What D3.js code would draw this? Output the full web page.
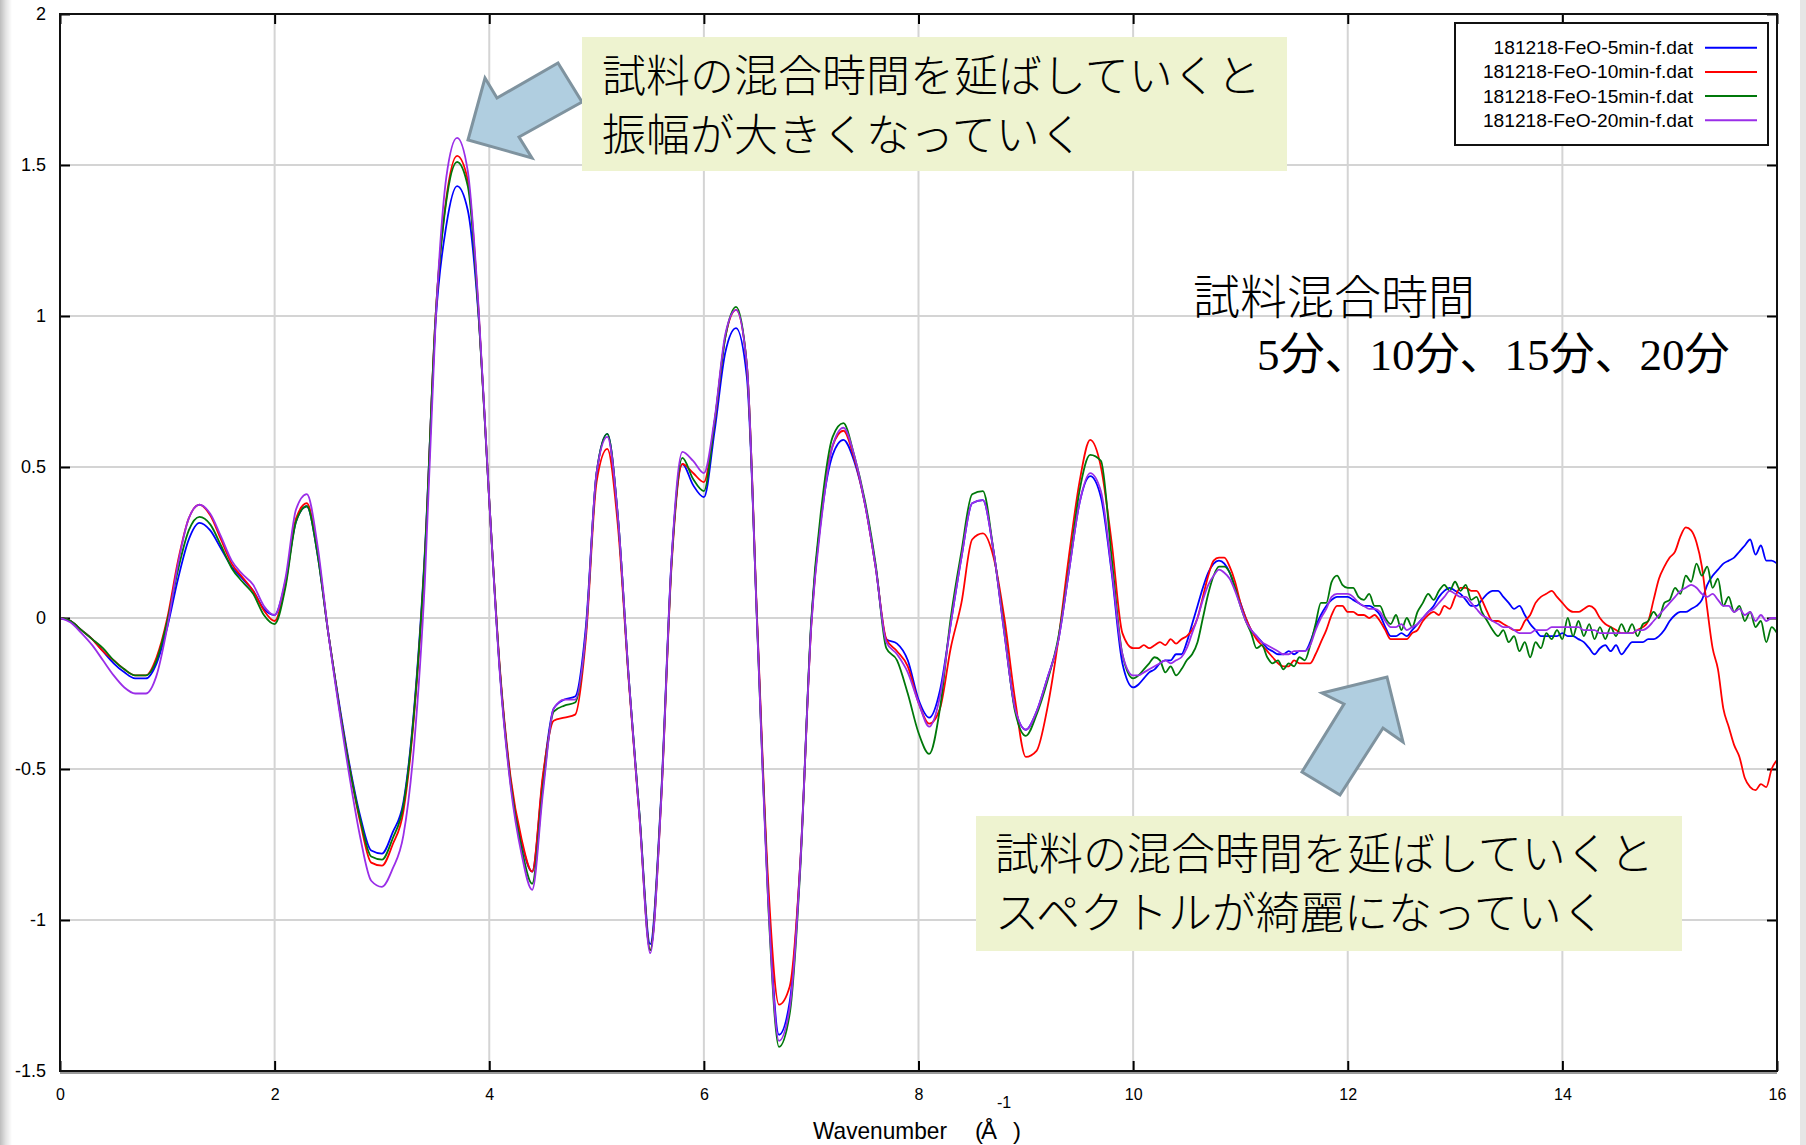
<!DOCTYPE html>
<html>
<head>
<meta charset="utf-8">
<script src="https://cdn.jsdelivr.net/npm/d3@7"></script>
<style>
html, body { margin: 0; padding: 0; background: #fff; }
svg { display: block; }
</style>
</head>
<body>
<svg id="chart" width="1806" height="1145"></svg>
<script>
// Wavenumber grid (Å^-1) shared by all four spectra
const wavenumber = [
  0,0.1,0.2,0.3,0.4,0.5,0.6,0.7,0.8,0.9,
  1,1.1,1.2,1.3,1.4,1.5,1.6,1.7,1.8,1.9,
  2,2.1,2.2,2.3,2.4,2.5,2.6,2.7,2.8,2.9,
  3,3.1,3.2,3.3,3.4,3.5,3.6,3.7,3.8,3.9,
  4,4.1,4.2,4.3,4.4,4.5,4.6,4.7,4.8,4.9,
  5,5.1,5.2,5.3,5.4,5.5,5.6,5.7,5.8,5.9,
  6,6.1,6.2,6.3,6.4,6.5,6.6,6.7,6.8,6.9,
  7,7.1,7.2,7.3,7.4,7.5,7.6,7.7,7.8,7.9,
  8,8.1,8.2,8.3,8.4,8.5,8.6,8.7,8.8,8.9,
  9,9.1,9.2,9.3,9.4,9.5,9.6,9.7,9.8,9.9,
  10,
  10.05,10.1,10.15,10.2,10.25,10.3,10.35,10.4,10.45,10.5,
  10.55,10.6,10.65,10.7,10.75,10.8,10.85,10.9,10.95,11,
  11.05,11.1,11.15,11.2,11.25,11.3,11.35,11.4,11.45,11.5,
  11.55,11.6,11.65,11.7,11.75,11.8,11.85,11.9,11.95,12,
  12.05,12.1,12.15,12.2,12.25,12.3,12.35,12.4,12.45,12.5,
  12.55,12.6,12.65,12.7,12.75,12.8,12.85,12.9,12.95,13,
  13.05,13.1,13.15,13.2,13.25,13.3,13.35,13.4,13.45,13.5,
  13.55,13.6,13.65,13.7,13.75,13.8,13.85,13.9,13.95,14,
  14.05,14.1,14.15,14.2,14.25,14.3,14.35,14.4,14.45,14.5,
  14.55,14.6,14.65,14.7,14.75,14.8,14.85,14.9,14.95,15,
  15.05,15.1,15.15,15.2,15.25,15.3,15.35,15.4,15.45,15.5,
  15.55,15.6,15.65,15.7,15.75,15.8,15.85,15.9,15.95,16
];

// 181218-FeO-5min-f.dat
const feo5min = [
  0,-0.01,-0.04,-0.07,-0.11,-0.15,-0.18,-0.20,-0.20,-0.15,
  -0.03,0.13,0.26,0.315,0.29,0.23,0.17,0.13,0.09,0.03,
  0.01,0.12,0.32,0.37,0.21,-0.05,-0.28,-0.49,-0.66,-0.77,
  -0.78,-0.71,-0.61,-0.30,0.22,0.98,1.30,1.43,1.35,1.00,
  0.39,-0.18,-0.54,-0.74,-0.84,-0.53,-0.30,-0.27,-0.26,-0.03,
  0.48,0.61,0.33,-0.20,-0.65,-1.08,-0.60,0.20,0.51,0.44,
  0.40,0.62,0.88,0.96,0.80,-0.05,-0.92,-1.38,-1.27,-0.80,
  -0.02,0.35,0.54,0.59,0.52,0.38,0.17,-0.07,-0.085,-0.14,
  -0.27,-0.33,-0.24,-0.02,0.20,0.38,0.39,0.22,-0.05,-0.30,
  -0.37,-0.31,-0.20,-0.08,0.15,0.38,0.47,0.40,0.15,-0.15,
  -0.23,
  -0.22,-0.20,-0.18,-0.17,-0.15,-0.14,-0.14,-0.12,-0.12,-0.08,
  -0.02,0.04,0.10,0.15,0.18,0.19,0.18,0.15,0.10,0.05,
  0.00,-0.04,-0.06,-0.08,-0.10,-0.11,-0.12,-0.12,-0.11,-0.12,
  -0.11,-0.11,-0.08,-0.03,0.01,0.04,0.06,0.07,0.07,0.07,
  0.06,0.05,0.04,0.04,0.03,0.01,-0.03,-0.06,-0.06,-0.05,
  -0.06,-0.04,-0.02,0.00,0.02,0.04,0.07,0.09,0.10,0.09,
  0.08,0.06,0.04,0.04,0.06,0.08,0.09,0.09,0.07,0.05,
  0.03,0.04,0.01,-0.02,-0.04,-0.06,-0.06,-0.06,-0.06,-0.05,
  -0.06,-0.06,-0.07,-0.08,-0.10,-0.12,-0.10,-0.09,-0.11,-0.09,
  -0.12,-0.10,-0.08,-0.08,-0.08,-0.07,-0.07,-0.06,-0.04,-0.01,
  0.01,0.02,0.02,0.03,0.04,0.06,0.11,0.14,0.16,0.18,
  0.19,0.20,0.22,0.24,0.26,0.21,0.24,0.19,0.19,0.18
];

// 181218-FeO-10min-f.dat
const feo10min = [
  0,-0.01,-0.04,-0.07,-0.11,-0.14,-0.17,-0.19,-0.19,-0.13,
  0.00,0.19,0.33,0.375,0.34,0.26,0.18,0.135,0.09,0.025,
  -0.01,0.11,0.33,0.38,0.22,-0.05,-0.29,-0.50,-0.68,-0.81,
  -0.82,-0.75,-0.64,-0.32,0.20,1.00,1.39,1.53,1.45,1.02,
  0.39,-0.17,-0.53,-0.73,-0.84,-0.52,-0.34,-0.33,-0.32,-0.07,
  0.45,0.56,0.30,-0.21,-0.66,-1.10,-0.62,0.18,0.51,0.48,
  0.45,0.65,0.93,1.02,0.84,-0.04,-0.88,-1.28,-1.22,-0.80,
  -0.03,0.36,0.57,0.62,0.53,0.38,0.17,-0.07,-0.11,-0.16,
  -0.28,-0.35,-0.30,-0.10,0.05,0.26,0.28,0.20,0.00,-0.27,
  -0.46,-0.44,-0.30,-0.08,0.20,0.45,0.59,0.50,0.25,-0.05,
  -0.10,
  -0.10,-0.09,-0.10,-0.09,-0.08,-0.09,-0.07,-0.085,-0.07,-0.06,
  -0.04,0.00,0.07,0.14,0.19,0.20,0.20,0.17,0.12,0.05,
  0.00,-0.04,-0.07,-0.09,-0.11,-0.13,-0.15,-0.16,-0.16,-0.14,
  -0.15,-0.15,-0.15,-0.12,-0.08,-0.04,0.01,0.04,0.04,0.02,
  0.02,0.01,0.01,0.00,0.01,-0.01,-0.04,-0.07,-0.07,-0.07,
  -0.07,-0.05,-0.04,-0.01,0.01,0.02,0.01,0.04,0.03,0.07,
  0.10,0.10,0.09,0.09,0.06,0.02,-0.01,-0.01,-0.02,-0.03,
  -0.04,-0.04,-0.01,0.01,0.05,0.07,0.08,0.09,0.07,0.05,
  0.03,0.02,0.02,0.03,0.04,0.03,0.00,-0.02,-0.03,-0.04,
  -0.05,-0.05,-0.05,-0.04,-0.03,-0.01,0.06,0.13,0.17,0.20,
  0.22,0.27,0.30,0.29,0.25,0.17,0.03,-0.10,-0.17,-0.30,
  -0.36,-0.42,-0.46,-0.53,-0.56,-0.57,-0.55,-0.56,-0.50,-0.47
];

// 181218-FeO-15min-f.dat
const feo15min = [
  0,-0.01,-0.04,-0.07,-0.10,-0.14,-0.17,-0.19,-0.19,-0.14,
  -0.01,0.16,0.29,0.335,0.31,0.24,0.165,0.12,0.08,0.01,
  -0.02,0.10,0.32,0.37,0.21,-0.05,-0.29,-0.50,-0.67,-0.79,
  -0.80,-0.73,-0.62,-0.31,0.21,1.00,1.38,1.51,1.43,1.01,
  0.39,-0.18,-0.55,-0.76,-0.88,-0.56,-0.31,-0.29,-0.28,-0.05,
  0.48,0.61,0.33,-0.20,-0.65,-1.10,-0.61,0.19,0.53,0.46,
  0.42,0.65,0.93,1.03,0.84,-0.06,-0.95,-1.42,-1.31,-0.82,
  -0.01,0.38,0.60,0.645,0.54,0.39,0.18,-0.10,-0.14,-0.25,
  -0.38,-0.45,-0.30,0.00,0.22,0.41,0.42,0.22,-0.04,-0.31,
  -0.39,-0.32,-0.21,-0.07,0.16,0.42,0.54,0.52,0.20,-0.12,
  -0.20,
  -0.19,-0.17,-0.15,-0.13,-0.14,-0.18,-0.16,-0.19,-0.17,-0.14,
  -0.12,-0.08,0.00,0.08,0.14,0.17,0.17,0.15,0.10,0.04,
  -0.01,-0.05,-0.10,-0.09,-0.13,-0.15,-0.14,-0.17,-0.15,-0.16,
  -0.13,-0.14,-0.09,-0.02,0.05,0.05,0.12,0.14,0.11,0.10,
  0.10,0.07,0.06,0.08,0.04,0.04,0.00,-0.02,0.01,-0.04,
  0.00,-0.03,0.02,0.05,0.08,0.06,0.09,0.11,0.09,0.12,
  0.09,0.11,0.06,0.07,0.02,-0.01,-0.04,-0.06,-0.04,-0.08,
  -0.06,-0.11,-0.08,-0.13,-0.08,-0.10,-0.05,-0.07,-0.04,-0.07,
  0.00,-0.06,-0.01,-0.06,-0.02,-0.07,-0.03,-0.07,-0.03,-0.06,
  -0.02,-0.05,-0.02,-0.06,-0.02,-0.01,0.02,0.00,0.05,0.06,
  0.10,0.08,0.14,0.12,0.18,0.14,0.17,0.10,0.13,0.04,
  0.07,0.02,0.04,-0.01,0.02,-0.03,-0.01,-0.08,-0.03,-0.05
];

// 181218-FeO-20min-f.dat
const feo20min = [
  0,-0.015,-0.05,-0.09,-0.14,-0.19,-0.23,-0.25,-0.25,-0.19,
  -0.03,0.18,0.33,0.375,0.345,0.27,0.19,0.145,0.11,0.04,
  0.01,0.13,0.36,0.41,0.24,-0.05,-0.30,-0.53,-0.73,-0.87,
  -0.89,-0.83,-0.72,-0.42,0.12,0.98,1.46,1.59,1.48,1.03,
  0.39,-0.19,-0.56,-0.78,-0.90,-0.58,-0.30,-0.27,-0.27,-0.05,
  0.48,0.60,0.33,-0.20,-0.66,-1.11,-0.62,0.20,0.55,0.52,
  0.48,0.66,0.94,1.02,0.84,-0.06,-0.94,-1.40,-1.29,-0.81,
  -0.03,0.34,0.57,0.63,0.54,0.38,0.17,-0.08,-0.12,-0.18,
  -0.28,-0.36,-0.26,-0.02,0.20,0.38,0.39,0.22,-0.05,-0.30,
  -0.37,-0.31,-0.20,-0.08,0.15,0.38,0.48,0.42,0.16,-0.12,
  -0.19,
  -0.19,-0.18,-0.17,-0.16,-0.15,-0.14,-0.15,-0.14,-0.13,-0.10,
  -0.05,0.00,0.06,0.11,0.14,0.16,0.15,0.13,0.09,0.04,
  -0.01,-0.04,-0.06,-0.08,-0.09,-0.10,-0.11,-0.12,-0.12,-0.11,
  -0.11,-0.11,-0.09,-0.04,0.00,0.03,0.07,0.08,0.08,0.08,
  0.07,0.05,0.04,0.03,0.03,0.02,-0.01,-0.03,-0.03,-0.02,
  -0.04,-0.03,-0.02,0.00,0.02,0.03,0.05,0.07,0.09,0.08,
  0.07,0.07,0.05,0.03,0.01,0.00,-0.01,-0.02,-0.03,-0.03,
  -0.04,-0.05,-0.05,-0.05,-0.04,-0.04,-0.04,-0.03,-0.03,-0.03,
  -0.03,-0.03,-0.03,-0.04,-0.04,-0.04,-0.05,-0.05,-0.05,-0.05,
  -0.05,-0.05,-0.05,-0.04,-0.04,-0.03,-0.01,0.01,0.03,0.05,
  0.07,0.09,0.10,0.11,0.10,0.08,0.07,0.08,0.06,0.04,
  0.04,0.02,0.03,0.01,0.02,-0.01,0.01,-0.01,0.00,0.00
];

const seriesNames = [
  "181218-FeO-5min-f.dat",
  "181218-FeO-10min-f.dat",
  "181218-FeO-15min-f.dat",
  "181218-FeO-20min-f.dat"
];
const seriesValues = [feo5min, feo10min, feo15min, feo20min];
const seriesColors = ["#0000ff", "#ff0000", "#00780a", "#9a2ee8"];

const xTicks = [0, 2, 4, 6, 8, 10, 12, 14, 16];
const yTicks = [-1.5, -1, -0.5, 0, 0.5, 1, 1.5, 2];
const yTickLabels = ["-1.5", "-1", "-0.5", "0", "0.5", "1", "1.5", "2"];

const xTitle = "Wavenumber";
const xUnit = "Å";
const xUnitExp = "-1";

const noteTop = ["試料の混合時間を延ばしていくと", "振幅が大きくなっていく"];
const noteBottom = ["試料の混合時間を延ばしていくと", "スペクトルが綺麗になっていく"];
const timeTitle = "試料混合時間";
const timeList = "5分、10分、15分、20分";

// ---- layout ----
const W = 1806, H = 1145;
const plot = { left: 60, right: 1777, top: 14, bottom: 1071 };

const svg = d3.select("#chart");

const x = d3.scaleLinear().domain([0, 16]).range([plot.left, plot.right]);
const y = d3.scaleLinear().domain([-1.5, 2]).range([plot.bottom, plot.top]);

// page edges
const defs = svg.append("defs");
const edge = defs.append("linearGradient").attr("id", "leftEdge")
  .attr("x1", "0").attr("x2", "1").attr("y1", "0").attr("y2", "0");
edge.append("stop").attr("offset", "0").attr("stop-color", "#bdbdbd");
edge.append("stop").attr("offset", "0.5").attr("stop-color", "#e4e4e4");
edge.append("stop").attr("offset", "1").attr("stop-color", "#ffffff");
svg.append("rect").attr("x", 0).attr("y", 0).attr("width", W).attr("height", H).attr("fill", "#fff");
svg.append("rect").attr("x", 0).attr("y", 0).attr("width", 12).attr("height", H).attr("fill", "url(#leftEdge)");
svg.append("rect").attr("x", 1800).attr("y", 0).attr("width", 6).attr("height", H).attr("fill", "#e6e6e6");

defs.append("clipPath").attr("id", "plotClip")
  .append("rect")
  .attr("x", plot.left).attr("y", plot.top)
  .attr("width", plot.right - plot.left).attr("height", plot.bottom - plot.top);

// grid
const grid = svg.append("g").attr("stroke", "#d4d4d4").attr("stroke-width", 2);
grid.selectAll("line.gx").data(xTicks.slice(1, -1)).join("line")
  .attr("x1", d => x(d)).attr("x2", d => x(d))
  .attr("y1", plot.top).attr("y2", plot.bottom);
grid.selectAll("line.gy").data(yTicks.slice(1, -1)).join("line")
  .attr("x1", plot.left).attr("x2", plot.right)
  .attr("y1", d => y(d)).attr("y2", d => y(d));

// inward ticks on all four sides
const tickFont = '"Liberation Sans", Arial, sans-serif';
const axLeft = svg.append("g").attr("transform", `translate(${plot.left},0)`)
  .call(d3.axisLeft(y).tickValues(yTicks).tickFormat((d, i) => yTickLabels[i]).tickSize(-10).tickPadding(14));
const axBottom = svg.append("g").attr("transform", `translate(0,${plot.bottom})`)
  .call(d3.axisBottom(x).tickValues(xTicks).tickFormat(d3.format("d")).tickSize(-10).tickPadding(18));
const axRight = svg.append("g").attr("transform", `translate(${plot.right},0)`)
  .call(d3.axisRight(y).tickValues(yTicks).tickFormat("").tickSize(-10));
const axTop = svg.append("g").attr("transform", `translate(0,${plot.top})`)
  .call(d3.axisTop(x).tickValues(xTicks).tickFormat("").tickSize(-10));
[axLeft, axBottom, axRight, axTop].forEach(g => {
  g.select(".domain").remove();
  g.selectAll(".tick line").attr("stroke", "#000").attr("stroke-width", 2);
});
axLeft.selectAll("text").attr("font-family", tickFont).attr("font-size", 18).attr("fill", "#000");
axBottom.selectAll("text").attr("font-family", tickFont).attr("font-size", 16).attr("fill", "#000");

// spectra
const line = d3.line()
  .x((d, i) => x(wavenumber[i]))
  .y(d => y(d))
  .curve(d3.curveMonotoneX);
svg.append("g").attr("clip-path", "url(#plotClip)")
  .selectAll("path").data(seriesValues).join("path")
  .attr("d", line)
  .attr("fill", "none")
  .attr("stroke", (d, i) => seriesColors[i])
  .attr("stroke-width", 1.8)
  .attr("stroke-linejoin", "round");

// frame
svg.append("rect")
  .attr("x", plot.left).attr("y", plot.top)
  .attr("width", plot.right - plot.left).attr("height", plot.bottom - plot.top)
  .attr("fill", "none").attr("stroke", "#111").attr("stroke-width", 2);
svg.append("line")
  .attr("x1", plot.left).attr("x2", plot.right)
  .attr("y1", plot.bottom + 2).attr("y2", plot.bottom + 2)
  .attr("stroke", "#9a9a9a").attr("stroke-width", 2);

// x axis title
const xt = svg.append("g").attr("font-family", tickFont).attr("fill", "#000");
xt.append("text").attr("x", 813).attr("y", 1139).attr("font-size", 24)
  .attr("textLength", 134).attr("lengthAdjust", "spacingAndGlyphs").text(xTitle);
xt.append("text").attr("x", 975).attr("y", 1139).attr("font-size", 24).text("(");
xt.append("text").attr("x", 981).attr("y", 1139).attr("font-size", 24).text(xUnit);
xt.append("text").attr("x", 1013).attr("y", 1139).attr("font-size", 24).text(")");
xt.append("text").attr("x", 997).attr("y", 1108).attr("font-size", 16).text(xUnitExp);

// legend
const lg = svg.append("g");
lg.append("rect").attr("x", 1455).attr("y", 23).attr("width", 313).attr("height", 122)
  .attr("fill", "#fff").attr("stroke", "#111").attr("stroke-width", 2);
const rows = lg.selectAll("g.row").data(seriesNames).join("g")
  .attr("transform", (d, i) => `translate(0,${47.7 + i * 24.2})`);
rows.append("text").attr("x", 1693).attr("y", 6.5).attr("text-anchor", "end")
  .attr("font-family", tickFont).attr("font-size", 19.2).attr("fill", "#000").text(d => d);
rows.append("line").attr("x1", 1705).attr("x2", 1757).attr("y1", 0).attr("y2", 0)
  .attr("stroke", (d, i) => seriesColors[i]).attr("stroke-width", 2);

// call-out arrows
const arrowFill = "#b0cee0", arrowStroke = "#7f939f";
const arrowTop = [[468, 140], [485, 78], [497, 98], [558, 63], [582, 102], [519, 137], [532, 158]];
const arrowBottom = [[1387, 677], [1403, 742], [1383, 728], [1340, 795], [1302, 772], [1344, 704], [1322, 693]];
svg.selectAll("path.arrow").data([arrowTop, arrowBottom]).join("path")
  .attr("class", "arrow")
  .attr("d", d => d3.line()(d) + "Z")
  .attr("fill", arrowFill).attr("stroke", arrowStroke).attr("stroke-width", 3)
  .attr("stroke-linejoin", "miter");

// annotation boxes
const jpFont = '"Noto Sans CJK JP", "Noto Sans CJK SC", sans-serif';
function noteBox(x0, y0, w, h, lines, tx, baselines) {
  const g = svg.append("g");
  g.append("rect").attr("x", x0).attr("y", y0).attr("width", w).attr("height", h).attr("fill", "#eef3d0");
  g.selectAll("text").data(lines).join("text")
    .attr("x", tx).attr("y", (d, i) => baselines[i])
    .attr("font-family", jpFont).attr("font-size", 44).attr("font-weight", 300)
    .attr("fill", "#000").text(d => d);
}
noteBox(582, 37, 705, 134, noteTop, 602, [92, 151]);
noteBox(976, 816, 706, 135, noteBottom, 995, [870, 929]);

svg.append("text").attr("x", 1193).attr("y", 314)
  .attr("font-family", jpFont).attr("font-size", 47).attr("font-weight", 300)
  .attr("fill", "#000").text(timeTitle);
svg.append("text").attr("x", 1257).attr("y", 370)
  .attr("font-family", '"Liberation Serif", "Noto Sans CJK JP", serif').attr("font-size", 45)
  .attr("fill", "#000").text(timeList);
</script>
</body>
</html>
